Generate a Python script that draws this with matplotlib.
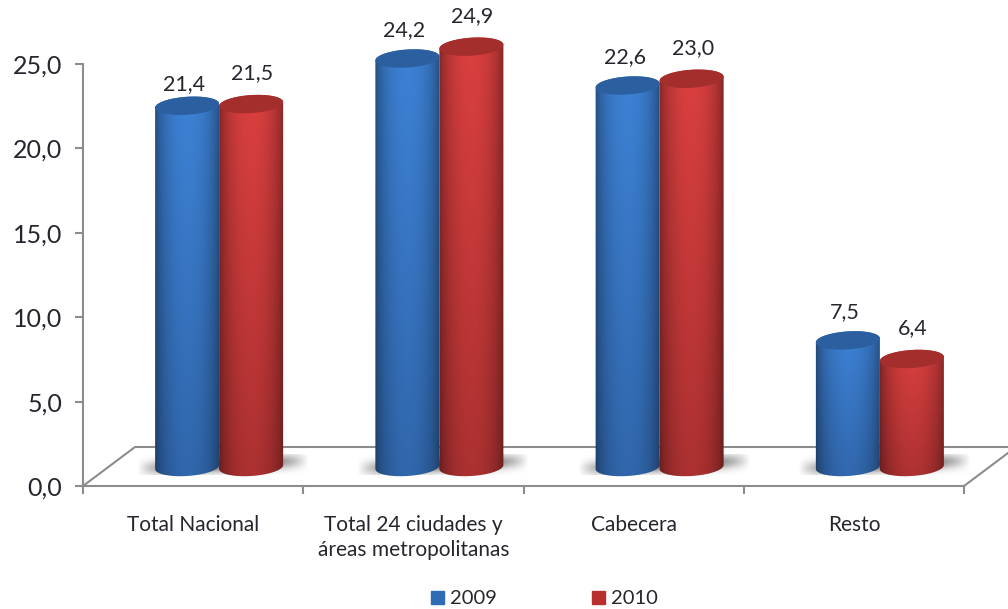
import numpy as np
import matplotlib
matplotlib.use('Agg')
import matplotlib.pyplot as plt
from matplotlib.path import Path
from matplotlib.patches import PathPatch, Patch

categories = ['Total Nacional', 'Total 24 ciudades y\náreas metropolitanas',
              'Cabecera', 'Resto']
years = ['2009', '2010']
values_2009 = [21.4, 24.2, 22.6, 7.5]
values_2010 = [21.5, 24.9, 23.0, 6.4]
y_ticks = [0, 5, 10, 15, 20, 25]

# gap in pixels between bar top and its value label (uneven in the original)
label_gap_2009 = [22, 28, 28, 28]
label_gap_2010 = [31, 31, 31, 31]

plt.rcParams['font.family'] = ['Lato', 'DejaVu Sans']
TEXT = '#26262e'
GREY = '#8c8c8c'

# pixel scale of the plot area
PX_X = 1 / 220.25
PX_Y = 25 / 422.0

BAR_W = 64 * PX_X
SHIFT_X = 26 * PX_X
BASE_Y = 19 * PX_Y
ELL_H = 9 * PX_Y
TILT = 2 * PX_Y
DEPTH_X = 52 * PX_X
DEPTH_Y = 39 * PX_Y


def ellipse(cx, cy, t):
    return (cx + BAR_W / 2 * np.cos(t),
            cy + ELL_H * np.sin(t) + TILT * np.cos(t))


def shadow(ax, fig, xc):
    # soft dark smear on the floor, behind each pair of bars
    nx, ny = 120, 30
    u = np.linspace(-1, 1, nx)
    v = np.linspace(-1, 1, ny)
    uu, vv = np.meshgrid(u, v)
    sheared = vv - 0.4 * uu
    alpha = np.clip(1 - np.abs(uu) ** 3, 0, 1) * np.exp(-(sheared / 0.7) ** 2)
    rgba = np.zeros((ny, nx, 4))
    rgba[..., :3] = 0.35
    rgba[..., 3] = 0.9 * alpha
    im = ax.imshow(rgba, extent=(xc - 82 * PX_X, xc + 90 * PX_X,
                                 BASE_Y - 8 * PX_Y, BASE_Y + 13 * PX_Y),
                   origin='lower', aspect='auto', interpolation='bilinear',
                   zorder=2)
    im.set_clip_box(fig.bbox)


def cylinder(ax, fig, xc, value, light, dark, cap, zorder):
    top = BASE_Y + value
    t_low = np.linspace(np.pi, 2 * np.pi, 60)
    t_up = np.linspace(0, np.pi, 60)
    xb, yb = ellipse(xc, BASE_Y, t_low)
    xt, yt = ellipse(xc, top, t_up)
    verts = np.column_stack([np.r_[xb, xt], np.r_[yb, yt]])
    body = Path(np.vstack([verts, verts[0]]), closed=True)

    # shading: dark at the sides, bright in the middle, darker going down
    u = np.linspace(-1, 1, 128)
    prof = 0.42 + 0.58 * (1 - u ** 2) ** 0.55
    ramp = np.linspace(0, 1, 64)[:, None, None]
    low = np.array(dark)[None, None, :]
    high = np.array(light)[None, None, :]
    rgb = (low + (high - low) * ramp) * prof[None, :, None]

    im = ax.imshow(np.clip(rgb, 0, 1),
                   extent=(xc - BAR_W / 2 - 0.01, xc + BAR_W / 2 + 0.01,
                           BASE_Y - 1, top + 1),
                   origin='lower', aspect='auto', interpolation='bilinear',
                   zorder=zorder)
    im.set_clip_box(fig.bbox)
    im.set_clip_path(PathPatch(body, transform=ax.transData))

    xc_t, yc_t = ellipse(xc, top, np.linspace(0, 2 * np.pi, 80))
    ax.fill(xc_t, yc_t, color=cap, lw=0, zorder=zorder + 0.1, clip_on=False)


fig = plt.figure(figsize=(10.08, 6.09), dpi=100)
ax = fig.add_axes([83 / 1008, (609 - 486) / 609, 881 / 1008, 422 / 609])

x = np.arange(len(categories)) + 0.5
centers = x + SHIFT_X

# floor of the 3D box
ax.plot([0, DEPTH_X, 4 + DEPTH_X * 2], [0, DEPTH_Y, DEPTH_Y], color=GREY,
        lw=1.5, clip_on=False, zorder=1)
ax.plot([4, 4 + DEPTH_X], [0, DEPTH_Y], color=GREY, lw=1.5, clip_on=False,
        zorder=1)

for xc in centers:
    shadow(ax, fig, xc)

for i, xc in enumerate(centers):
    cylinder(ax, fig, xc - BAR_W / 2, values_2009[i], (0.24, 0.51, 0.84),
             (0.19, 0.40, 0.67), '#2b5f9f', 3 + i)
    cylinder(ax, fig, xc + BAR_W / 2, values_2010[i], (0.86, 0.25, 0.25),
             (0.67, 0.19, 0.19), '#a32e2b', 3.5 + i)
    ax.text(xc - BAR_W / 2 - 3 * PX_X,
            BASE_Y + values_2009[i] + label_gap_2009[i] * PX_Y,
            f'{values_2009[i]:.1f}'.replace('.', ','), ha='center',
            va='center', fontsize=15.5, color=TEXT, zorder=10)
    ax.text(xc + BAR_W / 2 + 1 * PX_X,
            BASE_Y + values_2010[i] + label_gap_2010[i] * PX_Y,
            f'{values_2010[i]:.1f}'.replace('.', ','), ha='center',
            va='center', fontsize=15.5, color=TEXT, zorder=10)

ax.set_xlim(0, 4)
ax.set_ylim(0, 25)
for side in ['top', 'right']:
    ax.spines[side].set_visible(False)
for side in ['left', 'bottom']:
    ax.spines[side].set_color(GREY)
    ax.spines[side].set_linewidth(1.5)

ax.set_yticks(y_ticks)
ax.set_yticklabels([f'{v:.1f}'.replace('.', ',') for v in y_ticks],
                   fontsize=18, color=TEXT)
ax.set_xticks(range(5))
ax.set_xticklabels([])
ax.set_xticks(x, labels=categories, minor=True)
ax.tick_params(axis='x', which='major', length=6, width=1.5, color=GREY)
ax.tick_params(axis='y', length=6, width=1.5, color=GREY, pad=9)
ax.tick_params(axis='x', which='minor', length=0, pad=21, labelsize=15,
               labelcolor=TEXT)
for lab in ax.get_xticklabels(minor=True):
    lab.set_linespacing(1.3)
    lab.set_va('top')

handles = [Patch(color='#2e6cb5', label=years[0]),
           Patch(color='#b8302e', label=years[1])]
fig.legend(handles=handles, loc='center', bbox_to_anchor=(544.5 / 1008, 1 - 599 / 609),
           ncol=2, frameon=False, fontsize=14.5, handlelength=0.65,
           handleheight=0.65, handletextpad=0.3, columnspacing=4.7,
           labelcolor=TEXT, borderpad=0)

fig.savefig('out.png', dpi=100)
plt.close('all')
